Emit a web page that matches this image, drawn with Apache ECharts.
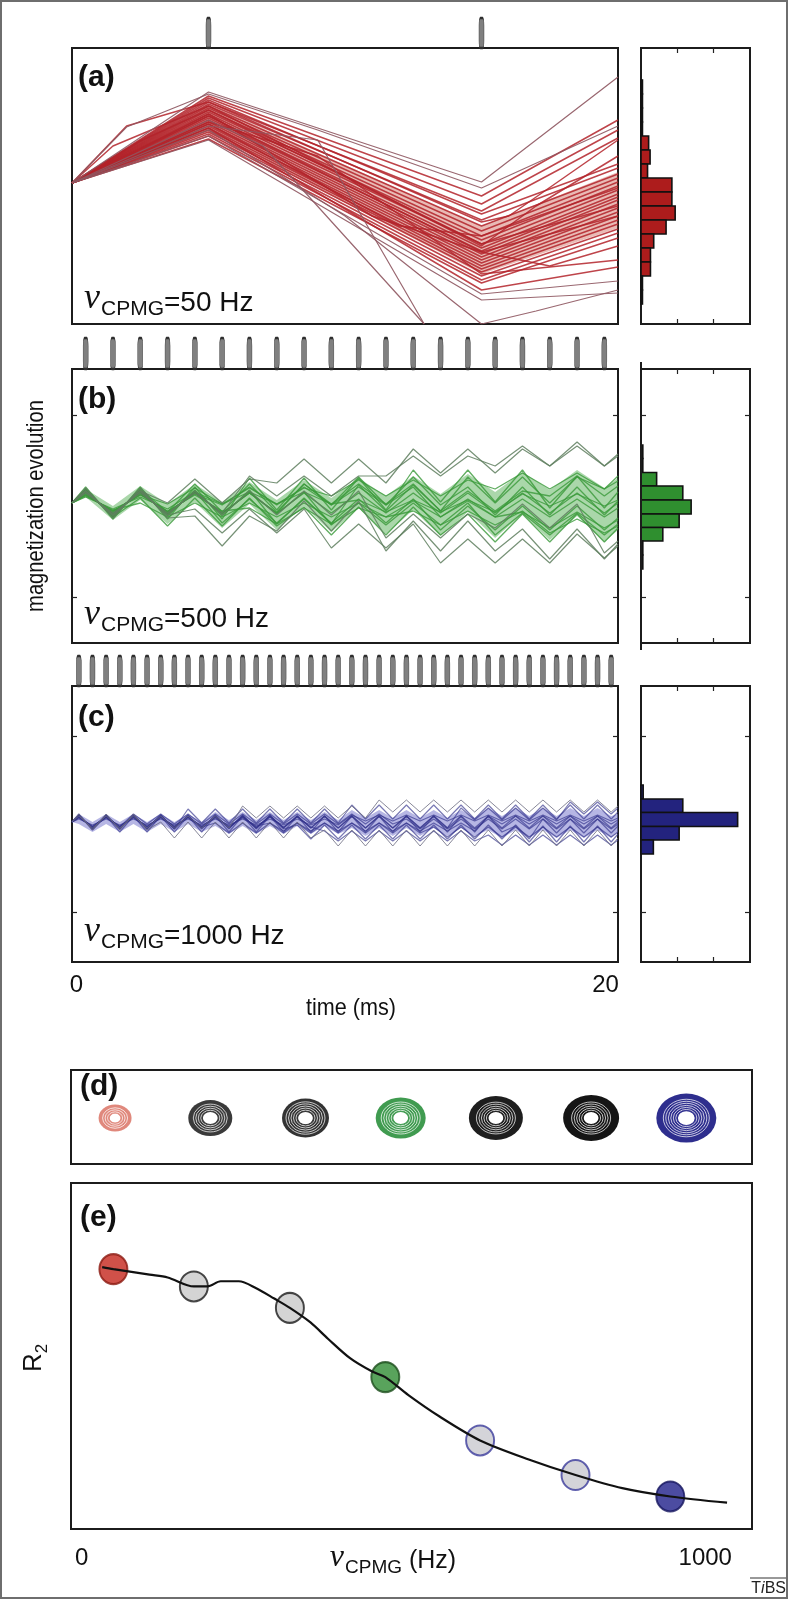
<!DOCTYPE html>
<html><head><meta charset="utf-8">
<script src="https://cdn.jsdelivr.net/npm/echarts@6/dist/echarts.min.js"></script>
<style>html,body{margin:0;padding:0;background:#fff}#c{width:788px;height:1599px}</style>
</head><body><div id="c"></div>
<script>
// ---------- data ----------
const pulsesA = [5, 15];
const tA = [0, 5, 15, 20];
const bandTopA = [3, 82, -40, 14];
const bandBotA = [3, 54, -88, -42];
const tracesA = [
 [[0,3],[5,90],[15,-10],[20,66]],
 [[0,3],[5,88],[15,-18],[20,56]],
 [[0,3],[2,60],[5,84],[15,-25],[20,48]],
 [[0,3],[5,86],[15,-28],[20,22]],
 [[0,3],[5,82],[15,-34],[20,18]],
 [[0,3],[5,80],[15,-40],[20,12]],
 [[0,3],[5,78],[15,-45],[20,8]],
 [[0,3],[5,76],[15,-50],[20,4]],
 [[0,3],[5,74],[15,-54],[20,0]],
 [[0,3],[5,72],[15,-58],[20,-4]],
 [[0,3],[5,70],[15,-62],[20,-8]],
 [[0,3],[5,68],[15,-65],[20,-11]],
 [[0,3],[5,66],[15,-68],[20,-14]],
 [[0,3],[5,64],[15,-71],[20,-18]],
 [[0,3],[5,62],[15,-74],[20,-22]],
 [[0,3],[5,60],[15,-77],[20,-26]],
 [[0,3],[5,58],[15,-80],[20,-30]],
 [[0,3],[5,56],[15,-83],[20,-34]],
 [[0,3],[5,54],[15,-86],[20,-38]],
 [[0,3],[5,52],[15,-90],[20,-43]],
 [[0,3],[5,50],[15,-94],[20,-47]],
 [[0,3],[5,47],[15,-97],[20,-52]],
 [[0,3],[5,72],[11,-30],[15,-66],[20,-30]],
 [[0,3],[1.5,40],[5,80],[15,-60],[17,-20],[20,30]],
 [[0,3],[5,84],[15,-36],[16,-30],[20,46]],
 [[0,3],[5,70],[15,-66],[17.5,-80],[20,-60]],
 [[0,3],[2.5,45],[5,76],[15,-58],[20,-20]],
 [[0,3],[5,62],[12,-40],[15,-50],[20,-2]],
 [[0,3],[5,64],[9,30],[15,-88],[20,-74]],
 [[0,3],[5,58],[15,-104],[20,-81]]
];
const strayA = [
 [[0,3],[5,94],[15,4],[20,109]],
 [[0,3],[5,50],[15,-108],[20,-95]],
 [[0,3],[5,46],[15,-114],[20,-107]],
 [[0,3],[5,60],[9,46],[12.9,-138]],
 [[0,3],[5,56],[10,-30],[15,-138],[17,-125],[20,-104]],
 [[0,3],[5,66],[7,40],[12.9,-138]],
 [[0,3],[2,59],[5,92],[9,56],[15,-2],[20,60]]
];
const histEdgesA = [106,92,78,64,50,36,22,8,-6,-20,-34,-48,-62,-76,-90,-104,-118];
const histCountsA = [0.04,0.04,0.04,0.04,0.21,0.25,0.18,0.85,0.85,0.94,0.69,0.35,0.26,0.26,0.04,0.04];

const tB = [0,0.5,1.5,2.5,3.5,4.5,5.5,6.5,7.5,8.5,9.5,10.5,11.5,12.5,13.5,14.5,15.5,16.5,17.5,18.5,19.5,20];
const bandTopB = [3,17,0,20,2,22,4,24,6,26,8,28,10,30,12,32,14,34,16,36,18,28];
const bandBotB = [3,9,-14,6,-18,4,-22,2,-24,0,-26,-2,-28,-4,-30,-6,-32,-8,-34,-10,-36,-24];
const tracesB = [
 [3,13,-7,13,-7,13,-7,13,-7,13,-7,13,-7,13,-7,13,-7,13,-7,13,-7,3],
 [3,15,-9,15,-9,15,-17,7,-17,7,-17,7,-17,7,-24,0,-24,0,-24,0,-24,-12],
 [3,11,-5,11,2,18,2,18,2,18,10,26,10,26,10,26,17,33,17,33,17,25],
 [3,17,-11,8,-20,8,-20,8,-20,-1,-29,-1,-29,-1,-29,-8,-36,-8,-36,-8,-36,-22],
 [3,9,-3,9,-3,14,2,14,2,14,2,6,-6,6,-6,6,-6,12,0,12,0,6],
 [3,19,-13,19,-13,19,-13,28,-4,28,-4,28,-4,36,4,36,4,36,-2,30,-2,14],
 [3,14,-8,14,-8,14,-8,14,-8,14,-19,3,-19,3,-19,3,-29,-7,-29,-7,-29,-18],
 [3,12,-6,12,-6,12,1,19,1,19,1,19,1,19,-11,7,-11,7,-11,7,-11,-2],
 [3,16,-10,16,-10,16,-10,16,-18,8,-18,21,-5,21,-5,29,3,29,3,29,17,30],
 [3,10,-4,3,-11,3,-11,3,-11,3,-11,3,-11,-5,-19,-5,-19,-5,-27,-13,-27,-20],
 [3,13,-7,13,-7,13,-7,13,-7,22,2,22,2,22,-5,15,-5,15,10,30,10,20],
 [3,17,-11,17,-6,22,-6,22,-6,22,1,29,1,29,1,19,-9,19,-9,19,-9,5],
 [3,11,-5,11,-5,11,-5,-2,-18,-2,-18,-2,-11,5,-11,5,-11,-6,-22,-6,-22,-14]
];
const strayB = [
 [3,15,-9,15,3,27,3,27,23,47,23,47,23,57,33,57,33,57,40,64,40,52],
 [3,13,-7,13,-7,13,-7,30,10,30,10,30,30,50,30,50,40,60,40,60,40,50],
 [3,15,-9,15,-9,-3,-27,-3,-27,-3,-42,-18,-42,-18,-57,-33,-57,-33,-57,-28,-52,-40],
 [3,18,-12,18,-12,-10,-40,-10,-25,5,-25,5,-45,-15,-45,-15,-45,-23,-53,-23,-53,-38],
 [3,15,-9,15,-9,15,-9,15,-9,15,-9,15,-32,-8,-32,-8,-22,2,-22,2,-47,-35]
];
const histEdgesB = [61,47.5,33.5,20,6,-8,-21.5,-35,-49,-63];
const histCountsB = [0.05,0.05,0.43,1.15,1.38,1.05,0.6,0.05,0.05];

const tC = [0,0.25,0.75,1.25,1.75,2.25,2.75,3.25,3.75,4.25,4.75,5.25,5.75,6.25,6.75,7.25,7.75,8.25,8.75,9.25,9.75,10.25,10.75,11.25,11.75,12.25,12.75,13.25,13.75,14.25,14.75,15.25,15.75,16.25,16.75,17.25,17.75,18.25,18.75,19.25,19.75,20];
const bandTopC = [2, 10,2,10,2,10,2,10,2,10,2, 12,4,12,4,12,4,12,4,12,4, 14,6,14,6,14,6,14,6,14,6, 16,8,16,8,16,8,16,8,16,8, 10];
const bandBotC = [2, 0,-8,0,-8,0,-8,0,-8,0,-8, -2,-10,-2,-10,-2,-10,-2,-10,-2,-10, -4,-12,-4,-12,-4,-12,-4,-12,-4,-12, -6,-14,-6,-14,-6,-14,-6,-14,-6,-14, -8];
const tracesC = [
 [2, 8,-4,8,-4,8,-4,8,-4,8,-4, 8,-4,8,-4,8,-4,8,-4,8,-4, 8,-4,8,-4,8,-4,8,-4,8,-4, 8,-4,8,-4,8,-4,8,-4,8,-4, 2],
 [2, 7,-3,7,-3,7,-3,7,-3,7,-3, 1,-9,1,-9,1,-9,1,-9,1,-9, 1,-9,1,-9,1,-9,-3,-13,-3,-13, -3,-13,-3,-13,-3,-13,-3,-13,-3,-13, -8],
 [2, 9,-5,9,-5,9,-5,9,-5,15,1, 15,1,15,1,15,1,15,1,15,1, 19,5,19,5,19,5,19,5,19,5, 19,5,19,5,19,5,19,5,19,5, 12],
 [2, 6,-2,6,-2,6,-2,6,-2,6,-2, 6,-2,6,-2,1,-7,1,-7,1,-7, 1,-7,1,-7,1,-7,1,-7,1,-7, 8,0,8,0,8,0,8,0,8,0, 4],
 [2, 7,-3,7,-3,10,0,10,0,10,0, 10,0,10,0,10,0,10,0,10,0, 10,0,10,0,5,-5,5,-5,5,-5, 5,-5,5,-5,5,-5,5,-5,5,-5, 0],
 [2, 9,-5,9,-5,9,-5,9,-5,9,-5, 9,-5,9,-5,9,-5,-1,-15,-1,-15, -1,-15,-1,-15,-1,-15,-1,-15,-1,-15, -1,-15,-1,-15,5,-9,5,-9,5,-9, -2],
 [2, 5,-1,5,-1,5,-1,5,-1,5,-1, 5,-1,5,-1,5,-1,5,-1,5,-1, 9,3,9,3,9,3,9,3,9,3, 9,3,9,3,9,3,9,3,9,3, 6],
 [2, 8,-4,8,-4,8,-4,8,-4,8,-4, 8,-4,8,-4,8,-4,8,-4,8,-4, 8,-4,8,-4,8,-4,8,-4,16,4, 16,4,16,4,16,4,22,10,22,10, 16],
 [2, 10,-6,8,-8,8,-8,8,-8,8,-8, 8,-8,8,-8,8,-8,8,-8,8,-8, 8,-8,8,-8,8,-8,8,-8,8,-8, 8,-8,-2,-18,-2,-18,-2,-18,-2,-18, -10],
 [2, 7,-3,7,-3,7,-3,7,-3,7,-3, 7,-3,7,-3,7,-3,7,-3,-7,-17, -7,-17,-7,-17,-7,-17,-7,-17,-7,-17, -11,-21,-11,-21,-11,-21,-11,-21,-11,-21, -16]
];
const strayC = [
 [2, 10,-6,10,-6,10,-6,2,-14,2,-14, 2,-14,2,-14,2,-14,2,-14,-6,-22, -6,-22,-6,-22,-6,-22,-6,-22,-6,-22, -6,-22,-6,-22,-6,-22,-6,-22,-6,-22, -14],
 [2, 8,-4,8,-4,8,-4,8,-4,8,-4, 8,-4,18,6,18,6,18,6,18,6, 18,6,24,12,24,12,24,12,24,12, 24,12,24,12,24,12,24,12,24,12, 18]
];
const histEdgesC = [39,25,11.5,-2.5,-16,-30];
const histCountsC = [0.06,1.15,2.66,1.05,0.34];

const ringIdx = [1,2,3,4,5,6,7];
const ringW = [33,44,47,50,54,56,60];
const ringH = [27,36,39,41,44,46,49];
const ringHole = [6,8,8,8,8,8,9];
const ringLines = [3,4,5,5,5,5,6];
const ringColor = ['#e0887c','#3a3a3a','#333333','#409b50','#1e1e1e','#151515','#2e2e8e'];

const curveHz = [33,51,109,138,180,202,223,252,280,309,334,367,395,431,466,487,524,574,639,717,792,867,944,1035];
const curveR2 = [75.7,75.1,73.5,72.7,70.1,70.1,71.6,71.6,69.6,66.6,63.9,59.7,55.0,49.3,45.5,43.9,38.7,32.5,25.6,20.1,15.6,11.8,9.4,7.6];
const pointHz = [51,180,334,487,639,792,944];
const pointR2 = [75.1,70.1,63.9,43.9,25.6,15.6,9.4];
const pointFill = ['#c4261b','#c9c9c9','#c9c9c9','#2f8c33','#c9c9cf','#c9c9cf','#1f1f8a'];
const pointStroke = ['#8b1a12','#1a1a1a','#1a1a1a','#1d4d1d','#3b3b9b','#3b3b9b','#15155e'];

// ---------- layout ----------
const FONT = "'Liberation Sans', Arial, Helvetica, sans-serif";
const SERIF = "'Liberation Serif', 'DejaVu Serif', serif";
const BORDER = '#1c1c1c';
const boxGrid = (l,t,w,h) => ({left:l, top:t, width:w, height:h, show:true, borderColor:BORDER, borderWidth:2, backgroundColor:'transparent', containLabel:false, outerBoundsMode:'none'});
const plainGrid = (l,t,w,h) => ({left:l, top:t, width:w, height:h, show:false, containLabel:false, outerBoundsMode:'none'});
const grids = [
  plainGrid(72,18,546,30), boxGrid(72,48,546,276), boxGrid(641,48,109,276),
  plainGrid(72,338,546,31), boxGrid(72,369,546,274), boxGrid(641,369,109,274),
  plainGrid(72,656,546,30), boxGrid(72,686,546,276), boxGrid(641,686,109,276),
  boxGrid(71,1070,681,94), boxGrid(71,1183,681,346)
];
const hid = (gi,min,max) => ({type:'value', gridIndex:gi, min, max, show:false});
const tickAx = (gi,min,max,pos,vals) => ({type:'value', gridIndex:gi, min, max, position:pos,
  axisLine:{show:false, onZero:false}, axisLabel:{show:false}, splitLine:{show:false},
  axisTick:{show:true, inside:true, length:5, customValues:vals, lineStyle:{color:'#222', width:1.2}}});
const labelAx = (gi,min,max,vals,margin) => ({type:'value', gridIndex:gi, min, max, position:'bottom',
  axisLine:{show:false, onZero:false}, axisTick:{show:false}, splitLine:{show:false},
  axisLabel:{customValues:vals, formatter:v => String(v), fontFamily:FONT, fontSize:24, color:'#111', margin:margin}});

const xAxis = [
  hid(0,0,20), hid(1,0,20), tickAx(2,0,3,'bottom',[1,2]), tickAx(2,0,3,'top',[1,2]),
  hid(3,0,20), hid(4,0,20), tickAx(5,0,3,'bottom',[1,2]), tickAx(5,0,3,'top',[1,2]),
  hid(6,0,20), hid(7,0,20), labelAx(7,-0.17,20.47,[0,20],11), tickAx(8,0,3,'bottom',[1,2]), tickAx(8,0,3,'top',[1,2]),
  hid(9,0.537,7.69), labelAx(10,-17,1075,[0,1000],17)
];
const yAxis = [
  hid(0,0,1), hid(1,-138,138), hid(2,-138,138),
  hid(3,0,1), tickAx(4,-137,137,'left',[-91,91]), tickAx(4,-137,137,'right',[-91,91]),
  tickAx(5,-137,137,'left',[-91,91]), tickAx(5,-137,137,'right',[-91,91]),
  hid(6,0,1), tickAx(7,-138,138,'left',[-88,88]), tickAx(7,-138,138,'right',[-88,88]),
  tickAx(8,-138,138,'left',[-88,88]), tickAx(8,-138,138,'right',[-88,88]),
  hid(9,-0.489,0.511), hid(10,0,100)
];

// ---------- series ----------
const series = [];
const pair = (ts, vs) => ts.map((t,i) => [t, vs[i]]);
function pulses(list, xi, yi, h) {
  series.push({type:'scatter', xAxisIndex:xi, yAxisIndex:yi, silent:true, symbol:'roundRect', symbolSize:[5,h],
    data:list.map(t => [t,0.5]), itemStyle:{color:'#808080', borderColor:'#2e2e2e', borderWidth:1, opacity:1}});
}
function band(xi, yi, ts, top, bot, color, op) {
  series.push({type:'custom', xAxisIndex:xi, yAxisIndex:yi, silent:true, clip:true, z:1, data:[[ts[0], top[0]]],
    renderItem(params, api) {
      const pts = [];
      for (let i = 0; i < ts.length; i++) pts.push(api.coord([ts[i], top[i]]));
      for (let i = ts.length-1; i >= 0; i--) pts.push(api.coord([ts[i], bot[i]]));
      return {type:'polygon', shape:{points:pts}, style:{fill:color, opacity:op}};
    }});
}
function lines(list, xi, yi, color, width, op) {
  list.forEach(d => series.push({type:'line', xAxisIndex:xi, yAxisIndex:yi, data:d, symbol:'none', silent:true,
    clip:true, z:2, lineStyle:{color, width, opacity:op}}));
}
function hist(xi, yi, edges, counts, color) {
  series.push({type:'custom', xAxisIndex:xi, yAxisIndex:yi, silent:true, z:3,
    data:counts.map((c,i) => [c, edges[i], edges[i+1]]), encode:{x:0, y:[1,2]},
    renderItem(params, api) {
      const p0 = api.coord([0, api.value(1)]);
      const p1 = api.coord([api.value(0), api.value(2)]);
      return {type:'rect', shape:{x:p0[0], y:p0[1], width:p1[0]-p0[0], height:p1[1]-p0[1]},
        style:{fill:color, stroke:'#111', lineWidth:1.6}};
    }});
}

pulses(pulsesA, 0, 0, 30);
band(1, 1, tA, bandTopA, bandBotA, '#c0392b', 0.35);
lines(tracesA, 1, 1, '#b3232a', 1.5, 0.85);
lines(strayA, 1, 1, '#8e5660', 1.2, 0.9);
hist(2, 2, histEdgesA, histCountsA, '#ad1c1c');

pulses(tB.slice(1,-1), 4, 3, 31);
band(5, 4, tB, bandTopB, bandBotB, '#43a643', 0.45);
lines(tracesB.map(v => pair(tB, v)), 5, 4, '#3a9a3a', 1.3, 0.8);
lines(strayB.map(v => pair(tB, v)), 5, 4, '#5f7f5f', 1.2, 0.85);
hist(6, 6, histEdgesB, histCountsB, '#2f8f2f');

pulses(tC.slice(1,-1), 8, 8, 30);
band(9, 9, tC, bandTopC, bandBotC, '#8686d2', 0.6);
lines(tracesC.map(v => pair(tC, v)), 9, 9, '#33338c', 1.2, 0.65);
lines(strayC.map(v => pair(tC, v)), 9, 9, '#6a6a80', 1.0, 0.8);
hist(11, 11, histEdgesC, histCountsC, '#23237e');

series.push({type:'custom', xAxisIndex:13, yAxisIndex:13, silent:true,
  data:ringIdx.map((x,i) => [x, 0, i]), encode:{x:0, y:1},
  renderItem(params, api) {
    const c = api.coord([api.value(0), 0]);
    const i = api.value(2);
    const R = ringW[i]/2, hole = ringHole[i], n = ringLines[i], col = ringColor[i];
    const kids = [{type:'circle', shape:{cx:0, cy:0, r:R}, style:{fill:col}}];
    const gap = 2.5;
    for (let j = 0; j < n; j++) {
      kids.push({type:'circle', shape:{cx:0, cy:0, r:hole + gap*(j+0.6)}, style:{fill:'none', stroke:'#ffffff', lineWidth:0.9, opacity:0.9}});
    }
    kids.push({type:'circle', shape:{cx:0, cy:0, r:hole}, style:{fill:'#ffffff', stroke:col, lineWidth:1.2}});
    return {type:'group', x:c[0], y:c[1], scaleY:ringH[i]/ringW[i], children:kids};
  }});

series.push({type:'scatter', xAxisIndex:14, yAxisIndex:14, silent:true, z:2, symbol:'circle', symbolSize:[28,30],
  data:pointHz.map((x,i) => ({value:[x, pointR2[i]], itemStyle:{color:pointFill[i], borderColor:pointStroke[i], borderWidth:2}}))});
series.push({type:'line', xAxisIndex:14, yAxisIndex:14, silent:true, z:3, symbol:'none', smooth:0.3,
  data:pair(curveHz, curveR2), lineStyle:{color:'#111', width:2.2}});

// ---------- text ----------
const tx = (text, x, y, size, extra) => Object.assign({type:'text', x, y, z:100, silent:true,
  style:Object.assign({text, fontFamily:FONT, fontSize:size, fill:'#111', align:'left', verticalAlign:'middle', textAlign:'left', textVerticalAlign:'middle'}, (extra && extra.style) || {})},
  extra && extra.el || {});
const mkRich = (nu, sub, main) => ({
  n:{fontFamily:SERIF, fontStyle:'italic', fontSize:nu, lineHeight:nu+2, padding:[0,1,3,0], verticalAlign:'bottom', fill:'#111'},
  s:{fontFamily:FONT, fontSize:sub, lineHeight:sub+3, verticalAlign:'bottom', fill:'#111'},
  m:{fontFamily:FONT, fontSize:main, lineHeight:main+5, padding:[0,0,3,0], verticalAlign:'bottom', fill:'#111'}
});
const nuLabel = (rest, x, y, align, rich) => ({type:'text', x, y, z:100, silent:true,
  style:{text:'{n|ν}{s|CPMG}{m|' + rest + '}', rich:rich, align:align, textAlign:align, verticalAlign:'bottom', textVerticalAlign:'bottom'}});
const panelLabel = (t, x, y) => tx(t, x, y, 30, {style:{fontWeight:'bold'}});
const bigNu = mkRich(36, 21, 28);
const axNu = mkRich(32, 19, 25);

const graphic = [
  {type:'rect', z:0, silent:true, shape:{x:1, y:1, width:786, height:1597}, style:{fill:'none', stroke:'#6e6e6e', lineWidth:2}},
  {type:'line', z:5, silent:true, shape:{x1:641, y1:362, x2:641, y2:650}, style:{stroke:BORDER, lineWidth:2}},
  panelLabel('(a)', 78, 78), panelLabel('(b)', 78, 400), panelLabel('(c)', 78, 718),
  panelLabel('(d)', 80, 1087), panelLabel('(e)', 80, 1218),
  nuLabel('=50 Hz', 84, 320, 'left', bigNu), nuLabel('=500 Hz', 84, 636, 'left', bigNu), nuLabel('=1000 Hz', 84, 953, 'left', bigNu),
  nuLabel(' (Hz)', 393, 1577, 'center', axNu),
  tx('magnetization evolution', 36, 506, 24, {style:{align:'center', textAlign:'center'}, el:{rotation:Math.PI/2, scaleX:0.84}}),
  tx('time (ms)', 351, 1008, 24, {style:{align:'center', textAlign:'center'}, el:{scaleX:0.9}}),
  {type:'text', x:36, y:1358, z:100, silent:true, rotation:Math.PI/2,
    style:{text:'{r|R}{s|2}', align:'center', textAlign:'center', verticalAlign:'middle', textVerticalAlign:'middle',
      rich:{r:{fontFamily:FONT, fontSize:26, lineHeight:30, padding:[0,0,4,0], verticalAlign:'bottom', fill:'#111'},
            s:{fontFamily:FONT, fontSize:17, lineHeight:21, verticalAlign:'bottom', fill:'#111'}}}},
  {type:'text', x:786, y:1589, z:100, silent:true,
    style:{text:'{a|T}{b|i}{a|BS}', align:'right', textAlign:'right', verticalAlign:'middle', textVerticalAlign:'middle',
      rich:{a:{fontFamily:FONT, fontSize:16, fill:'#222'}, b:{fontFamily:FONT, fontSize:16, fontStyle:'italic', fill:'#222'}}}},
  {type:'line', z:100, silent:true, shape:{x1:750, y1:1578, x2:786, y2:1578}, style:{stroke:'#333', lineWidth:1}}
];

const chart = echarts.init(document.getElementById('c'), null, {renderer:'canvas'});
chart.setOption({animation:false, backgroundColor:'#ffffff', grid:grids, xAxis, yAxis, series, graphic});
</script></body></html>
